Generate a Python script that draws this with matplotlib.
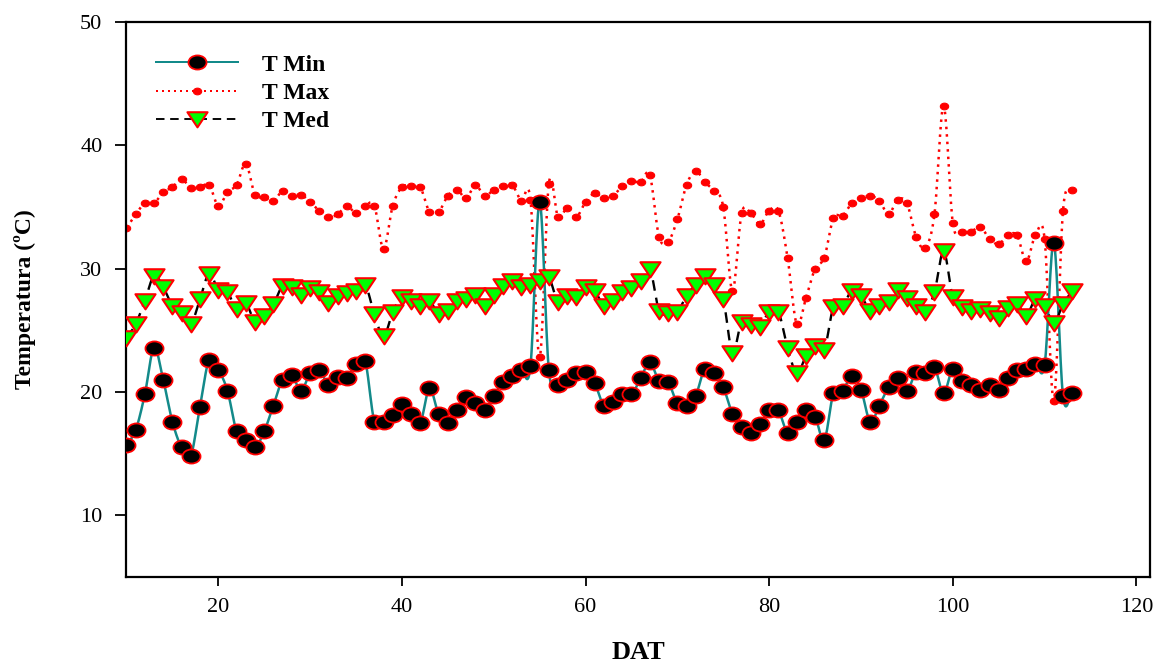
import numpy as np
import matplotlib
matplotlib.use("Agg")
import matplotlib.pyplot as plt
from matplotlib.lines import Line2D
from matplotlib.path import Path
from matplotlib.transforms import Affine2D

# ============================================================
# 0. Data
# ============================================================
dat = np.arange(10, 114)

t_min = [15.7, 16.9, 19.8, 23.6, 21.0, 17.6, 15.5, 14.8, 18.8, 22.6,   # 10-19
         21.8, 20.1, 16.8, 16.1, 15.5, 16.8, 18.9, 21.0, 21.4, 20.1,   # 20-29
         21.5, 21.8, 20.6, 21.2, 21.1, 22.3, 22.5, 17.6, 17.6, 18.1,   # 30-39
         19.0, 18.2, 17.5, 20.3, 18.2, 17.5, 18.5, 19.6, 19.1, 18.5,   # 40-49
         19.7, 20.8, 21.3, 21.8, 22.1, 35.4, 21.8, 20.6, 21.0, 21.5,   # 50-59
         21.6, 20.7, 18.9, 19.2, 19.8, 19.8, 21.1, 22.4, 20.9, 20.8,   # 60-69
         19.1, 18.9, 19.7, 21.9, 21.5, 20.4, 18.2, 17.2, 16.7, 17.4,   # 70-79
         18.5, 18.5, 16.7, 17.6, 18.5, 18.0, 16.1, 19.9, 20.1, 21.3,   # 80-89
         20.2, 17.6, 18.9, 20.4, 21.1, 20.1, 21.6, 21.5, 22.0, 19.9,   # 90-99
         21.9, 20.9, 20.6, 20.2, 20.6, 20.2, 21.1, 21.8, 21.9, 22.3,   # 100-109
         22.2, 32.1, 19.7, 19.9]                                       # 110-113

t_max = [33.3, 34.4, 35.3, 35.3, 36.2, 36.6, 37.3, 36.5, 36.6, 36.8,
         35.1, 36.2, 36.8, 38.5, 36.0, 35.8, 35.5, 36.3, 35.9, 36.0,
         35.4, 34.7, 34.2, 34.4, 35.1, 34.5, 35.1, 35.1, 31.6, 35.1,
         36.6, 36.7, 36.6, 34.6, 34.6, 35.9, 36.4, 35.7, 36.8, 35.9,
         36.4, 36.7, 36.8, 35.5, 35.6, 22.8, 36.9, 34.2, 34.9, 34.2,
         35.4, 36.1, 35.7, 35.9, 36.7, 37.1, 37.0, 37.6, 32.6, 32.2,
         34.0, 36.8, 37.9, 37.0, 36.3, 35.0, 28.2, 34.5, 34.5, 33.6,
         34.7, 34.7, 30.9, 25.5, 27.6, 30.0, 30.9, 34.1, 34.3, 35.3,
         35.7, 35.9, 35.5, 34.4, 35.6, 35.3, 32.6, 31.7, 34.4, 43.2,
         33.7, 33.0, 33.0, 33.4, 32.4, 32.0, 32.7, 32.7, 30.6, 32.7,
         32.4, 19.3, 34.7, 36.4]

t_med = [24.4, 25.5, 27.4, 29.4, 28.5, 27.0, 26.4, 25.5, 27.5, 29.6,
         28.3, 28.1, 26.7, 27.2, 25.7, 26.2, 27.1, 28.6, 28.5, 27.9,
         28.4, 28.1, 27.2, 27.8, 28.0, 28.2, 28.7, 26.3, 24.5, 26.5,
         27.7, 27.4, 27.0, 27.4, 26.3, 26.6, 27.4, 27.5, 27.9, 27.0,
         27.9, 28.6, 29.0, 28.5, 28.7, 29.0, 29.3, 27.3, 27.8, 27.7,
         28.5, 28.2, 27.0, 27.4, 28.1, 28.4, 29.0, 30.0, 26.6, 26.4,
         26.5, 27.8, 28.7, 29.4, 28.7, 27.5, 23.2, 25.7, 25.4, 25.3,
         26.5, 26.5, 23.6, 21.5, 22.9, 23.7, 23.4, 26.9, 27.0, 28.2,
         27.8, 26.6, 27.0, 27.3, 28.3, 27.6, 27.0, 26.5, 28.1, 31.4,
         27.7, 26.9, 26.6, 26.7, 26.4, 26.0, 26.8, 27.1, 26.2, 27.5,
         27.0, 25.6, 27.1, 28.2]

labels = ["T Min", "T Max", "T Med"]

# ============================================================
# 1. Helpers
# ============================================================
def smooth_line(x, y, n=16):
    """Catmull-Rom style smoothed line through the points (like a spreadsheet 'smoothed line')."""
    x = np.asarray(x, float)
    y = np.asarray(y, float)
    yp = np.concatenate([[2 * y[0] - y[1]], y, [2 * y[-1] - y[-2]]])
    t = np.linspace(0, 1, n, endpoint=False)
    h00 = 2 * t**3 - 3 * t**2 + 1
    h10 = t**3 - 2 * t**2 + t
    h01 = -2 * t**3 + 3 * t**2
    h11 = t**3 - t**2
    xs, ys = [], []
    for i in range(len(x) - 1):
        m0 = (yp[i + 2] - yp[i]) / 2
        m1 = (yp[i + 3] - yp[i + 1]) / 2
        xs.append(x[i] + t * (x[i + 1] - x[i]))
        ys.append(h00 * y[i] + h10 * m0 + h01 * y[i + 1] + h11 * m1)
    xs.append([x[-1]])
    ys.append([y[-1]])
    return np.concatenate(xs), np.concatenate(ys)


ellipse = Path.unit_circle().transformed(Affine2D().scale(1.0, 0.78))
small_ellipse = Path.unit_circle().transformed(Affine2D().scale(1.0, 0.8))
tri_down = Path([(-1, 0.72), (1, 0.72), (0, -0.78), (-1, 0.72)],
                [Path.MOVETO, Path.LINETO, Path.LINETO, Path.CLOSEPOLY])

teal = "#138a8a"

styles = {
    "T Min": dict(color=teal, ls="-", lw=1.8, marker=ellipse, ms=13,
                  mfc="black", mec="red", mew=1.3),
    "T Max": dict(color="red", ls=(0, (1, 2)), lw=1.8, marker=small_ellipse, ms=6,
                  mfc="red", mec="red", mew=0.8),
    "T Med": dict(color="black", ls=(0, (4.5, 3)), lw=1.7, marker=tri_down, ms=14.5,
                  mfc="#00ff00", mec="red", mew=1.5),
}

# ============================================================
# 2. Plot
# ============================================================
plt.rcParams["font.family"] = ["Liberation Serif", "DejaVu Serif"]

fig = plt.figure(figsize=(11.56, 6.67), dpi=100)
ax = fig.add_axes([0.109, 0.135, 0.886, 0.832])

series = {"T Min": t_min, "T Max": t_max, "T Med": t_med}
zorders = {"T Max": 2, "T Min": 3, "T Med": 4}

for name in ["T Max", "T Min", "T Med"]:
    st = styles[name]
    xs, ys = smooth_line(dat, series[name])
    ax.plot(xs, ys, color=st["color"], ls=st["ls"], lw=st["lw"], zorder=zorders[name])
    ax.plot(dat, series[name], ls="none", marker=st["marker"], ms=st["ms"],
            mfc=st["mfc"], mec=st["mec"], mew=st["mew"], zorder=zorders[name] + 0.5)

handles = []
for name in labels:
    st = styles[name]
    handles.append(Line2D([], [], color=st["color"], ls=st["ls"], lw=st["lw"] * 0.8,
                          marker=st["marker"], ms=st["ms"], mfc=st["mfc"],
                          mec=st["mec"], mew=st["mew"]))

ax.legend(handles, labels, loc="upper left", bbox_to_anchor=(0.029, 0.942),
          frameon=False, handlelength=3.5, handletextpad=1.0, labelspacing=0.28,
          borderpad=0, borderaxespad=0, numpoints=1,
          prop={"family": ["Liberation Serif"], "weight": "bold", "size": 17})

ax.set_xlim(9.95, 121.5)
ax.set_ylim(5, 50)
ax.set_xticks([20, 40, 60, 80, 100, 120])
ax.set_yticks([10, 20, 30, 40, 50])

ax.tick_params(axis="x", direction="out", length=6.5, width=1.3, pad=9, labelsize=16)
ax.tick_params(axis="y", direction="out", length=8, width=1.3, pad=9, labelsize=16)
for sp in ax.spines.values():
    sp.set_linewidth(1.6)

ax.set_xlabel("DAT", fontsize=19, fontweight="bold")
ax.xaxis.set_label_coords(0.5, -0.116)
ax.set_ylabel("Temperatura (ºC)", fontsize=17, fontweight="bold")
ax.yaxis.set_label_coords(-0.088, 0.5)

fig.savefig("out.png", dpi=100)
plt.close(fig)
